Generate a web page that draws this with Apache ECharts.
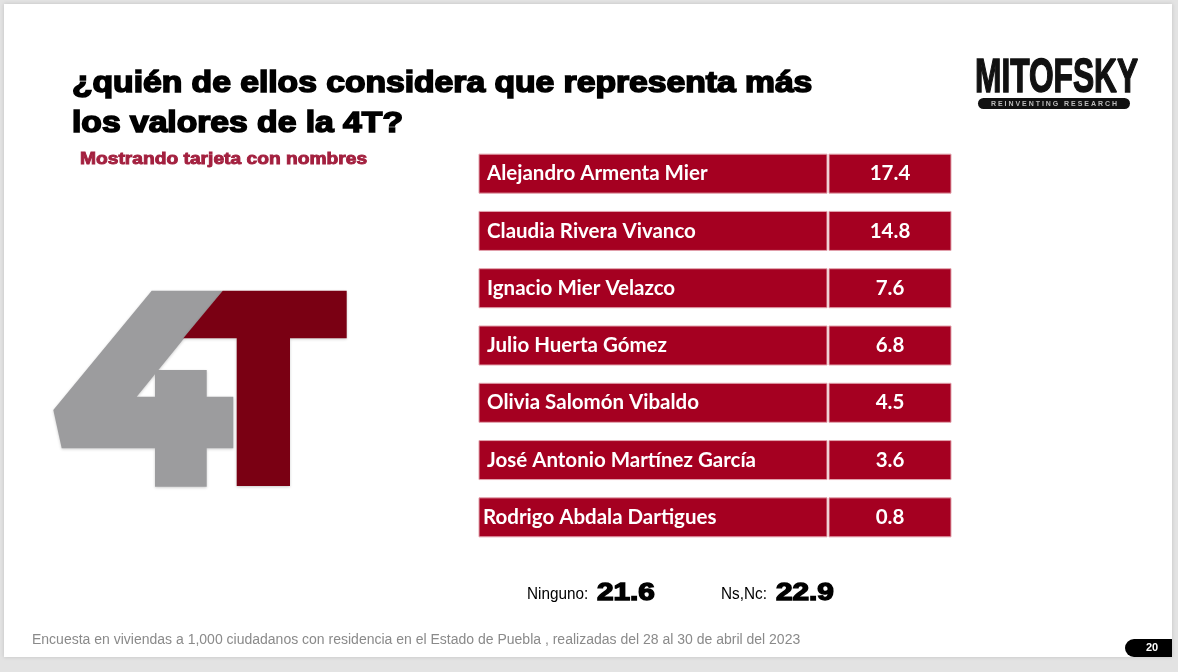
<!DOCTYPE html>
<html>
<head>
<meta charset="utf-8">
<script src="https://cdn.jsdelivr.net/npm/echarts@6/dist/echarts.min.js"></script>
<style>
html,body{margin:0;padding:0;background:#e3e3e3;}
#main{width:1178px;height:672px;}
</style>
</head>
<body>
<div id="main"></div>
<script>
// ---- data ----
var candidates = [
  'Alejandro Armenta Mier',
  'Claudia Rivera Vivanco',
  'Ignacio Mier Velazco',
  'Julio Huerta Gómez',
  'Olivia Salomón Vibaldo',
  'José Antonio Martínez García',
  'Rodrigo Abdala Dartigues'
];
var values = [17.4, 14.8, 7.6, 6.8, 4.5, 3.6, 0.8];
var otherLabels = ['Ninguno:', 'Ns,Nc:'];
var otherValues = [21.6, 22.9];
var titleLines = ['¿quién de ellos considera que representa más', 'los valores de la 4T?'];
var subtitle = 'Mostrando tarjeta con nombres';
var footnote = 'Encuesta en viviendas a 1,000 ciudadanos con residencia en el Estado de Puebla , realizadas del 28 al 30 de abril del 2023';
var pageNumber = '20';

var RED = '#a50021';
var chart = echarts.init(document.getElementById('main'), null, {renderer: 'canvas'});

var seriesData = candidates.map(function (n, i) { return [values[i], n]; });

var option = {
  backgroundColor: '#e3e3e3',
  animation: false,
  grid: {left: 479, top: 145, width: 472, height: 401},
  xAxis: {type: 'value', min: 0, max: 20, show: false},
  yAxis: {type: 'category', data: candidates, inverse: true, show: false},
  series: [{
    type: 'custom',
    encode: {x: 0, y: 1},
    data: seriesData,
    renderItem: function (params, api) {
      var i = params.dataIndex;
      var c = api.coord([0, i]);
      var cs = params.coordSys;
      var h = 39;
      var y = c[1] - h / 2;
      var x0 = cs.x;
      var nameW = 348;
      var gap = 2;
      var valW = cs.width - nameW - gap;
      return {
        type: 'group',
        children: [
          {type: 'rect', shape: {x: x0, y: y, width: nameW, height: h},
           style: {fill: RED, stroke: '#e2a3ad', lineWidth: 1}},
          {type: 'rect', shape: {x: x0 + nameW + gap, y: y, width: valW, height: h},
           style: {fill: RED, stroke: '#e2a3ad', lineWidth: 1}},
          {type: 'text', style: {
            text: candidates[i],
            x: x0 + (i === candidates.length - 1 ? 4 : 8), y: c[1],
            fill: '#ffffff', fontFamily: 'Lato', fontWeight: 'bold', fontSize: 20.5,
            align: 'left', verticalAlign: 'middle', textAlign: 'left', textVerticalAlign: 'middle'}},
          {type: 'text', style: {
            text: values[i].toFixed(1),
            x: x0 + nameW + gap + valW / 2, y: c[1],
            fill: '#ffffff', fontFamily: 'Lato', fontWeight: 'bold', fontSize: 20.5,
            align: 'center', verticalAlign: 'middle', textAlign: 'center', textVerticalAlign: 'middle'}}
        ]
      };
    }
  }],
  graphic: [
    // slide
    {type: 'rect', z: -10, shape: {x: 4, y: 4, width: 1168, height: 653},
     style: {fill: '#ffffff', shadowColor: 'rgba(0,0,0,0.15)', shadowBlur: 4}},
    // title
    {type: 'text', x: 72, y: 84, scaleX: 1.16, style: {text: titleLines[0], fill: '#000', stroke: '#000', lineWidth: 1.6,
      font: 'bold 29px "Liberation Sans", Arial, sans-serif', textVerticalAlign: 'middle', verticalAlign: 'middle'}},
    {type: 'text', x: 72, y: 124, scaleX: 1.16, style: {text: titleLines[1], fill: '#000', stroke: '#000', lineWidth: 1.6,
      font: 'bold 29px "Liberation Sans", Arial, sans-serif', textVerticalAlign: 'middle', verticalAlign: 'middle'}},
    {type: 'text', x: 80, y: 159, scaleX: 1.13, style: {text: subtitle, fill: '#a3203f', stroke: '#a3203f', lineWidth: 0.9,
      font: 'bold 17px "Liberation Sans", Arial, sans-serif', textVerticalAlign: 'middle', verticalAlign: 'middle'}},
    // logo
    {type: 'text', x: 975, y: 79, scaleX: 0.66, style: {text: 'MITOFSKY', fill: '#111', stroke: '#111', lineWidth: 1.5,
      font: 'bold 48px "Liberation Sans Narrow", "Liberation Sans", Arial, sans-serif', textVerticalAlign: 'middle', verticalAlign: 'middle'}},
    {type: 'rect', shape: {x: 978, y: 98, width: 152, height: 11, r: 5.5}, style: {fill: '#111'}},
    {type: 'text', x: 1054, y: 104, style: {text: 'R E I N V E N T I N G   R E S E A R C H', fill: '#bbb',
      font: 'bold 7px "Liberation Sans", Arial, sans-serif', textAlign: 'center', align: 'center', textVerticalAlign: 'middle', verticalAlign: 'middle'}},
    // 4T emblem
    {type: 'polygon', shape: {points: [[151.7,290.7],[222.7,290.7],[136.7,396.7],[155,396.7],[155,370],[206.7,370],[206.7,396.7],[233.3,396.7],[233.3,448.3],[206.7,448.3],[206.7,486.7],[155,486.7],[155,448.3],[61.7,448.3],[53.3,410]]},
     style: {fill: '#9c9c9e', shadowColor: 'rgba(0,0,0,0.2)', shadowBlur: 3, shadowOffsetY: 1}},
    {type: 'polygon', shape: {points: [[222.7,290.7],[346.7,290.7],[346.7,338.3],[290,338.3],[290,486],[236.7,486],[236.7,338.3],[183.3,338.3]]},
     style: {fill: '#7a0013', shadowColor: 'rgba(0,0,0,0.2)', shadowBlur: 3, shadowOffsetY: 1}},
    // other answers
    {type: 'text', x: 527, y: 594, scaleX: 0.9, style: {text: otherLabels[0], fill: '#000', font: '17px "Liberation Sans", Arial, sans-serif',
      textVerticalAlign: 'middle', verticalAlign: 'middle'}},
    {type: 'text', x: 597, y: 593, scaleX: 1.24, style: {text: otherValues[0].toFixed(1), fill: '#000', stroke: '#000', lineWidth: 1.4,
      font: 'bold 24px "Liberation Sans", Arial, sans-serif', textVerticalAlign: 'middle', verticalAlign: 'middle'}},
    {type: 'text', x: 721, y: 594, scaleX: 0.9, style: {text: otherLabels[1], fill: '#000', font: '17px "Liberation Sans", Arial, sans-serif',
      textVerticalAlign: 'middle', verticalAlign: 'middle'}},
    {type: 'text', x: 776, y: 593, scaleX: 1.24, style: {text: otherValues[1].toFixed(1), fill: '#000', stroke: '#000', lineWidth: 1.4,
      font: 'bold 24px "Liberation Sans", Arial, sans-serif', textVerticalAlign: 'middle', verticalAlign: 'middle'}},
    // footnote
    {type: 'text', x: 32, y: 640, style: {text: footnote, fill: '#8a8a8a',
      font: '14px "Liberation Sans Narrow", "Liberation Sans", Arial, sans-serif', textVerticalAlign: 'middle', verticalAlign: 'middle'}},
    // page badge
    {type: 'rect', shape: {x: 1125, y: 639, width: 47, height: 18, r: [9, 0, 0, 9]}, style: {fill: '#000'}},
    {type: 'text', x: 1152, y: 648, style: {text: pageNumber, fill: '#fff',
      font: 'bold 11px "Liberation Sans", Arial, sans-serif', textAlign: 'center', align: 'center', textVerticalAlign: 'middle', verticalAlign: 'middle'}}
  ]
};
chart.setOption(option);
</script>
</body>
</html>
